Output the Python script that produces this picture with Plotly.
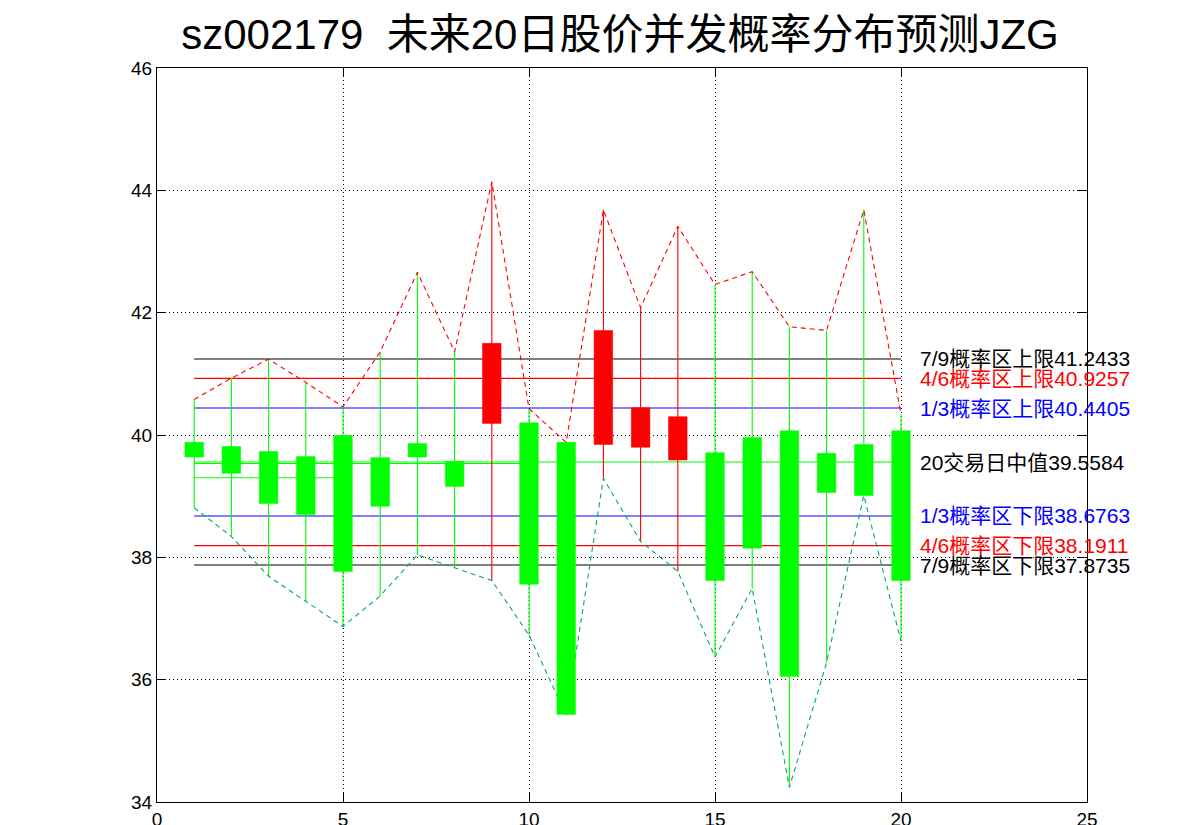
import plotly.graph_objects as go

# ---------------- data ----------------
days = list(range(1, 21))
high = [40.58, 40.93, 41.24, 40.86, 40.46, 41.36, 42.66, 41.36, 44.14, 40.43,
        39.88, 43.68, 42.08, 43.41, 42.46, 42.67, 41.77, 41.71, 43.68, 40.34]
low = [38.81, 38.34, 37.69, 37.28, 36.87, 37.37, 38.04, 37.83, 37.62, 36.73,
       35.42, 39.29, 38.26, 37.77, 36.37, 37.49, 34.24, 36.28, 39.01, 36.63]
open_ = [39.88, 39.81, 39.73, 39.65, 39.99, 39.63, 39.86, 39.57, 40.19, 40.20,
         39.88, 39.845, 39.80, 39.59, 39.71, 39.96, 40.07, 39.70, 39.845, 40.07]
close = [39.64, 39.375, 38.88, 38.70, 37.77, 38.835, 39.64, 39.16, 41.50, 37.56,
         35.43, 41.71, 40.445, 40.30, 37.62, 38.15, 36.05, 39.06, 39.01, 37.62]

band_names = ["7/9概率区上限", "4/6概率区上限", "1/3概率区上限", "20交易日中值",
              "1/3概率区下限", "4/6概率区下限", "7/9概率区下限"]
band_values = [41.2433, 40.9257, 40.4405, 39.5584, 38.6763, 38.1911, 37.8735]

avg_spans = [5, 10]          # short-window median lines (days covered)
avg_values = [39.30, 39.534]

title_text = "sz002179  未来20日股价并发概率分布预测JZG"
x_ticks = [0, 5, 10, 15, 20, 25]
y_ticks = [34, 36, 38, 40, 42, 44, 46]

# ---------------- style ----------------
UP = "#ff0000"
DOWN = "#00ff00"
TEAL = "#00a878"
band_colors = ["#000000", "#ff0000", "#0000ff", "#000000", "#0000ff", "#ff0000", "#000000"]
band_line_colors = ["#000000", "#ff0000", "#0000ff", "#00ff00", "#0000ff", "#ff0000", "#000000"]
half_w = 0.25
font_latin = "Liberation Sans, Arial, Noto Sans CJK SC, sans-serif"

fig = go.Figure()

# horizontal band lines
for v, c in zip(band_values, band_line_colors):
    fig.add_trace(go.Scatter(x=[days[0], days[-1]], y=[v, v], mode="lines",
                             line=dict(color=c, width=1.1), hoverinfo="skip"))
for span, v in zip(avg_spans, avg_values):
    fig.add_trace(go.Scatter(x=[days[0], days[span - 1]], y=[v, v], mode="lines",
                             line=dict(color=DOWN, width=1.1), hoverinfo="skip"))

# wicks
for col, cond in ((DOWN, lambda o, c: c <= o), (UP, lambda o, c: c > o)):
    wx, wy = [], []
    for d, h, l, o, c in zip(days, high, low, open_, close):
        if cond(o, c):
            wx += [d, d, None]
            wy += [l, h, None]
    fig.add_trace(go.Scatter(x=wx, y=wy, mode="lines", line=dict(color=col, width=1.1),
                             hoverinfo="skip"))

# envelope dashed lines
fig.add_trace(go.Scatter(x=days, y=high, mode="lines",
                         line=dict(color=UP, width=1.1, dash="5px,4px"), hoverinfo="skip"))
fig.add_trace(go.Scatter(x=days, y=low, mode="lines",
                         line=dict(color=TEAL, width=1.1, dash="5px,4px"), hoverinfo="skip"))

# candle bodies
for col, cond in ((DOWN, lambda o, c: c <= o), (UP, lambda o, c: c > o)):
    bx, by = [], []
    for d, o, c in zip(days, open_, close):
        if cond(o, c):
            bx += [d - half_w, d + half_w, d + half_w, d - half_w, d - half_w, None]
            by += [o, o, c, c, o, None]
    fig.add_trace(go.Scatter(x=bx, y=by, mode="lines", fill="toself", fillcolor=col,
                             line=dict(color=col, width=0.5), hoverinfo="skip"))

# labels
for name, v, c in zip(band_names, band_values, band_colors):
    fig.add_annotation(x=20.45, y=v, xref="x", yref="y", text=f"{name}{v:.4f}",
                       showarrow=False, xanchor="left", yanchor="middle",
                       font=dict(size=21, color=c, family=font_latin))

axis_common = dict(showline=True, linecolor="black", linewidth=1, mirror="ticks",
                   ticks="inside", ticklen=9, tickcolor="black", automargin=False,
                   showgrid=True, gridcolor="black", griddash="1px,3px", gridwidth=1,
                   zeroline=False, tickfont=dict(size=19, color="black", family=font_latin))

fig.update_layout(
    width=1193, height=817,
    paper_bgcolor="white", plot_bgcolor="white",
    showlegend=False,
    margin=dict(l=149, r=114, t=60, b=23, autoexpand=False),
    title=dict(text=title_text, x=0.513, xanchor="center", y=0.968, yanchor="middle",
               font=dict(size=42, color="black", family=font_latin)),
    xaxis=dict(range=[0, 25], tickvals=x_ticks, **axis_common),
    yaxis=dict(range=[34, 46], tickvals=y_ticks, **axis_common),
)

fig.write_html("out.html")
